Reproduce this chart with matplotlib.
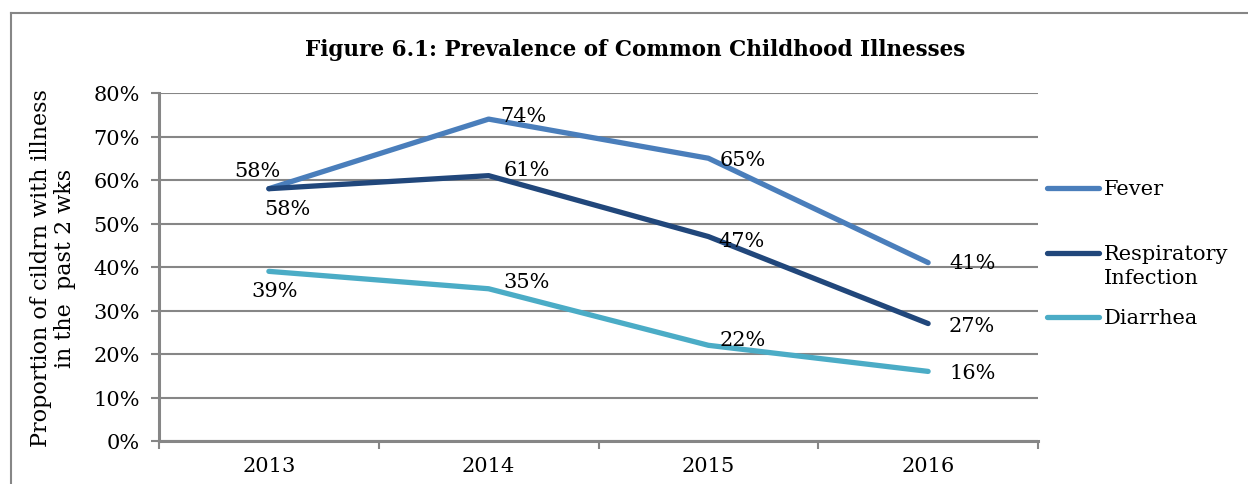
import numpy as np
import matplotlib.pyplot as plt
from matplotlib.lines import Line2D

years = ["2013", "2014", "2015", "2016"]
fever = [58, 74, 65, 41]
respiratory = [58, 61, 47, 27]
diarrhea = [39, 35, 22, 16]

names = ["Fever", "Respiratory\nInfection", "Diarrhea"]
colors = ["#4A7EBB", "#21477B", "#4BACC6"]
values = [fever, respiratory, diarrhea]

# label offsets in pixels (dx, dy), one row per series
offsets = [
    [(-11, 18), (35, 4), (34, -1), (44, 0)],
    [(19, -20), (38, 6), (33, -4), (44, -2)],
    [(6, -19), (38, 7), (34, 6), (44, -1)],
]

plt.rcParams["font.family"] = "DejaVu Serif"
grid_col = "#868686"
fs = 15
W, H = 1248, 485

fig = plt.figure(figsize=(W / 100, H / 100), dpi=100)
ax = fig.add_axes([159 / W, 1 - 442 / H, 879 / W, 348 / H])

x = np.arange(len(years))
for name, vals, col, offs in zip(names, values, colors, offsets):
    ax.plot(x, vals, color=col, lw=3.8, solid_capstyle="round",
            solid_joinstyle="round", zorder=3)
    for xi, v, (dx, dy) in zip(x, vals, offs):
        ax.annotate("%d%%" % v, (xi, v), xytext=(dx, dy),
                    textcoords="offset pixels", ha="center", va="center",
                    fontsize=fs, zorder=4)

ax.set_xlim(-0.5, 3.5)
ax.set_ylim(0, 80)
ax.set_yticks(np.arange(0, 81, 10))
ax.set_yticklabels(["%d%%" % t for t in range(0, 81, 10)], fontsize=fs)
ax.yaxis.grid(True, color=grid_col, lw=1.5)
ax.set_axisbelow(True)

ax.set_xticks(np.arange(-0.5, 3.6, 1))
ax.set_xticklabels([])
ax.set_xticks(x, minor=True)
ax.set_xticklabels(years, minor=True, fontsize=fs)
ax.tick_params(axis="x", which="minor", length=0, pad=11)
ax.tick_params(axis="x", which="major", length=6, width=1.5, color=grid_col)
ax.tick_params(axis="y", length=6, width=1.5, color=grid_col, pad=8)

for s in ["top", "right"]:
    ax.spines[s].set_visible(False)
for s in ["left", "bottom"]:
    ax.spines[s].set_color(grid_col)
    ax.spines[s].set_linewidth(2.2)

ax.set_ylabel("Proportion of cildrn with illness\nin the  past 2 wks",
              fontsize=16, linespacing=1.12, labelpad=12)

fig.text(635 / W, 1 - 50 / H,
         "Figure 6.1: Prevalence of Common Childhood Illnesses",
         ha="center", va="center", fontsize=15.5, fontweight="bold")

# legend entries, evenly stepped from the first line of each label
for i, (name, col) in enumerate(zip(names, colors)):
    yl = 1 - (189 + 64.5 * i) / H
    fig.add_artist(Line2D([1047 / W, 1099 / W], [yl, yl], color=col, lw=3.8,
                          solid_capstyle="round", transform=fig.transFigure))
    fig.text(1104 / W, yl + 9 / H, name, ha="left", va="top",
             fontsize=fs, linespacing=1.4)

# outer chart border (top and left edges)
fig.add_artist(Line2D([11 / W, 1], [1 - 14 / H, 1 - 14 / H],
                      color=grid_col, lw=1.5, transform=fig.transFigure))
fig.add_artist(Line2D([11 / W, 11 / W], [0, 1 - 14 / H],
                      color=grid_col, lw=1.5, transform=fig.transFigure))

fig.savefig("out.png", dpi=100)
